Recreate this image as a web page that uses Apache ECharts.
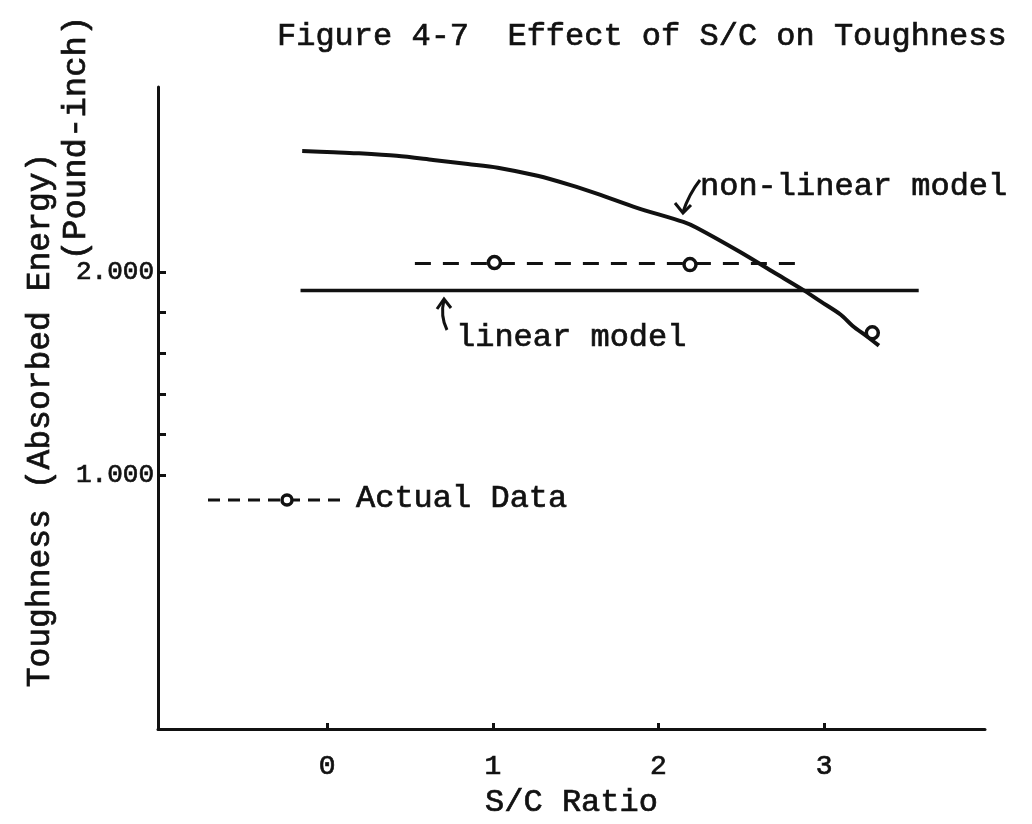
<!DOCTYPE html>
<html>
<head>
<meta charset="utf-8">
<script src="https://cdn.jsdelivr.net/npm/echarts@6/dist/echarts.min.js"></script>
<style>html,body{margin:0;padding:0;background:#fff}#c{width:1032px;height:824px}</style>
</head>
<body>
<div id="c"></div>
<script>
// ---- data ----
const xTickValues = [0, 1, 2, 3];
const yLabelValues = [1, 2];
const yTickValues = [1, 1.2, 1.4, 1.6, 1.8, 2];

// non-linear model curve
const nonLinearX = [-0.15, 0.04, 0.18, 0.42, 0.64, 0.85, 1.03, 1.27, 1.47, 1.65, 1.87, 2.15, 2.23, 2.49, 2.70, 2.87, 2.98, 3.10, 3.17, 3.26, 3.33];
const nonLinearY = [2.593, 2.587, 2.582, 2.569, 2.549, 2.529, 2.511, 2.471, 2.425, 2.377, 2.314, 2.245, 2.216, 2.098, 1.995, 1.912, 1.853, 1.789, 1.735, 1.681, 1.637];

// linear model
const linearX = [-0.16, 3.57];
const linearY = [1.908, 1.908];

// actual data points
const actualX = [1.01, 2.19, 3.29];
const actualY = [2.045, 2.035, 1.70];

// dashed line through actual data
const dashX = [0.53, 2.84];
const dashY = [2.04, 2.04];

const FONT = '"Liberation Mono", "DejaVu Sans Mono", monospace';
const INK = '#111';
const TB = {textBorderColor: INK, textBorderWidth: 0.7};

const zip = (a, b) => a.map((v, i) => [v, b[i]]);

const chart = echarts.init(document.getElementById('c'), null, {renderer: 'canvas'});
chart.setOption({
  backgroundColor: '#fff',
  animation: false,
  title: {
    text: 'Figure 4-7  Effect of S/C on Toughness',
    left: 272, top: 16,
    textStyle: Object.assign({fontFamily: FONT, fontSize: 32, fontWeight: 'normal', color: INK}, TB)
  },
  grid: {left: 158, right: 47, top: 87, bottom: 94},
  xAxis: {
    type: 'value', min: -1.02, max: 3.97,
    name: 'S/C Ratio', nameLocation: 'middle', nameGap: 54,
    nameTextStyle: Object.assign({fontFamily: FONT, fontSize: 32, color: INK}, TB),
    axisLine: {show: true, onZero: false, lineStyle: {color: INK, width: 3}},
    axisTick: {show: true, inside: true, length: 6, customValues: xTickValues, lineStyle: {color: INK, width: 3}},
    axisLabel: Object.assign({customValues: xTickValues, margin: 24, fontFamily: FONT, fontSize: 28, color: INK}, TB),
    splitLine: {show: false}
  },
  yAxis: {
    type: 'value', min: -0.245, max: 2.907,
    axisLine: {show: true, onZero: false, lineStyle: {color: INK, width: 3}},
    axisTick: {show: true, inside: true, length: 8, customValues: yTickValues, lineStyle: {color: INK, width: 3}},
    axisLabel: Object.assign({customValues: yLabelValues, margin: 4, fontFamily: FONT, fontSize: 26, color: INK,
      formatter: v => v.toFixed(3)}, TB),
    splitLine: {show: false}
  },
  series: [
    {
      name: 'non-linear model', type: 'line', data: zip(nonLinearX, nonLinearY),
      smooth: 0.3, showSymbol: false, lineStyle: {color: INK, width: 4}
    },
    {
      name: 'linear model', type: 'line', data: zip(linearX, linearY),
      showSymbol: false, lineStyle: {color: INK, width: 3.5}
    },
    {
      name: 'Actual Data line', type: 'line', data: zip(dashX, dashY),
      showSymbol: false, lineStyle: {color: INK, width: 3, type: [16, 12]}
    },
    {
      name: 'Actual Data', type: 'scatter', data: zip(actualX, actualY),
      symbol: 'circle', symbolSize: 12, z: 5,
      itemStyle: {color: '#fff', borderColor: INK, borderWidth: 3.5, opacity: 1}
    }
  ],
  graphic: [
    // y axis title (two lines)
    {type: 'text', x: 40, y: 420, rotation: Math.PI / 2,
     style: {text: 'Toughness (Absorbed Energy)', font: '33px ' + FONT, fill: INK, stroke: INK, lineWidth: 0.7, align: 'center', verticalAlign: 'middle'}},
    {type: 'text', x: 76, y: 138, rotation: Math.PI / 2,
     style: {text: '(Pound-inch)', font: '34px ' + FONT, fill: INK, stroke: INK, lineWidth: 0.7, align: 'center', verticalAlign: 'middle'}},
    // non-linear model annotation
    {type: 'text', x: 700, y: 187,
     style: {text: 'non-linear model', font: '32px ' + FONT, fill: INK, stroke: INK, lineWidth: 0.7, align: 'left', verticalAlign: 'middle'}},
    {type: 'bezierCurve', shape: {x1: 700, y1: 180, cpx1: 689, cpy1: 194, x2: 683, y2: 212}, style: {stroke: INK, lineWidth: 3, fill: null}},
    {type: 'polyline', shape: {points: [[675, 203], [683, 213], [691, 205]]}, style: {stroke: INK, lineWidth: 3, fill: null}},
    // linear model annotation
    {type: 'text', x: 456, y: 338,
     style: {text: 'linear model', font: '32px ' + FONT, fill: INK, stroke: INK, lineWidth: 0.7, align: 'left', verticalAlign: 'middle'}},
    {type: 'bezierCurve', shape: {x1: 447, y1: 330, cpx1: 440, cpy1: 316, x2: 444, y2: 300}, style: {stroke: INK, lineWidth: 3, fill: null}},
    {type: 'polyline', shape: {points: [[437, 309], [444, 299], [451, 308]]}, style: {stroke: INK, lineWidth: 3, fill: null}},
    // legend sample
    {type: 'line', shape: {x1: 208, y1: 500, x2: 345, y2: 500}, style: {stroke: INK, lineWidth: 3, lineDash: [12, 8]}},
    {type: 'circle', shape: {cx: 287, cy: 500, r: 5}, style: {fill: '#fff', stroke: INK, lineWidth: 3.5}},
    {type: 'text', x: 356, y: 499,
     style: {text: 'Actual Data', font: '32px ' + FONT, fill: INK, stroke: INK, lineWidth: 0.7, align: 'left', verticalAlign: 'middle'}}
  ]
});
</script>
</body>
</html>
